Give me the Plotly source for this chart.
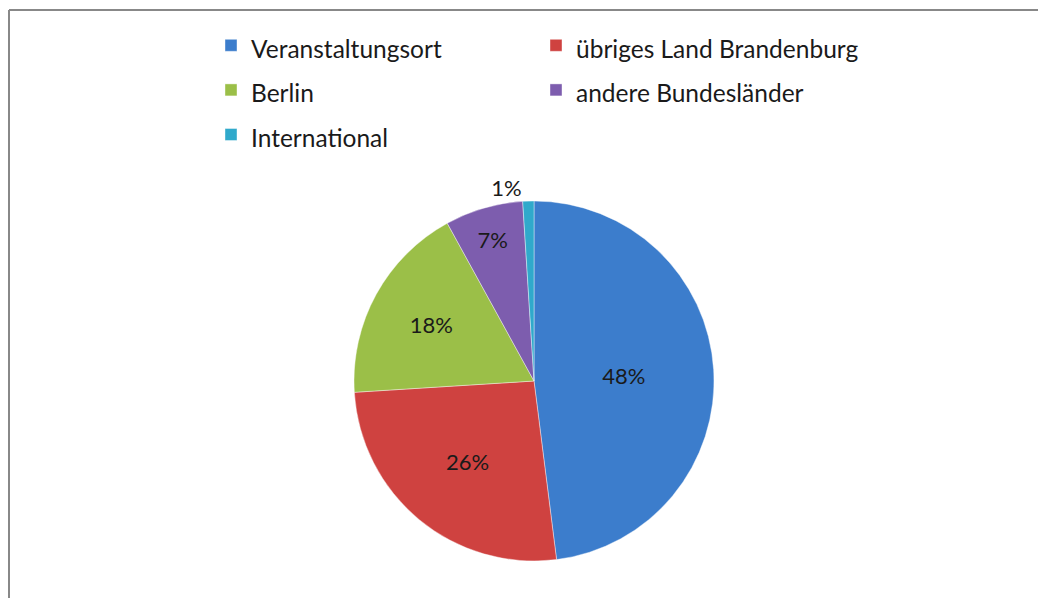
import plotly.graph_objects as go

categories = ["Veranstaltungsort", "übriges Land Brandenburg", "Berlin", "andere Bundesländer", "International"]
values = [48, 26, 18, 7, 1]
colors = ["#3C7DCC", "#CF4240", "#9BBF48", "#7D5DAE", "#30A9CB"]
text_positions = ["inside", "inside", "inside", "inside", "outside"]

W, H = 1046, 598
OFF = 8              # browser body margin
ML, MR = 150, 150    # side margins -> plot area width controls legend wrapping (2 columns)
PW = W - ML - MR
cx, cy, r = 534 - OFF, 381 - OFF, 180


def px_x(v):
    return (v - ML) / PW


def px_y(v):
    return 1 - v / H


legend_labels = [f"<span style='font-size:24.5px'>{c}</span>" for c in categories]

fig = go.Figure(go.Pie(
    labels=legend_labels,
    values=values,
    sort=False,
    direction="clockwise",
    rotation=0,
    marker=dict(colors=colors, line=dict(color="rgba(255,255,255,0.4)", width=1)),
    texttemplate="%{percent:.0%}",
    textposition=text_positions,
    insidetextorientation="horizontal",
    textfont=dict(family="Lato", size=22, color="#1a1a1a"),
    domain=dict(x=[px_x(cx - r), px_x(cx + r)], y=[px_y(cy + r), px_y(cy - r)]),
    hoverinfo="label+percent",
))

fig.update_layout(
    width=W, height=H,
    margin=dict(l=ML, r=MR, t=0, b=0),
    paper_bgcolor="white",
    plot_bgcolor="white",
    font=dict(family="Lato", color="#1a1a1a"),
    uniformtext=dict(minsize=22, mode="show"),
    legend=dict(
        orientation="h",
        x=px_x(231 - OFF - 20), xanchor="left",
        y=px_y(47 - OFF - 29), yanchor="top",
        font=dict(family="Lato", size=32, color="#1a1a1a"),
        entrywidth=280, entrywidthmode="pixels",
        traceorder="normal",
        bgcolor="rgba(0,0,0,0)",
    ),
    shapes=[
        dict(type="line", xref="paper", yref="paper", x0=px_x(1), x1=px_x(W), y0=px_y(10 - OFF), y1=px_y(10 - OFF),
             line=dict(color="#888888", width=2)),
        dict(type="line", xref="paper", yref="paper", x0=px_x(1), x1=px_x(1), y0=px_y(10 - OFF), y1=px_y(H),
             line=dict(color="#888888", width=2)),
    ],
)

fig.write_html("out.html")
